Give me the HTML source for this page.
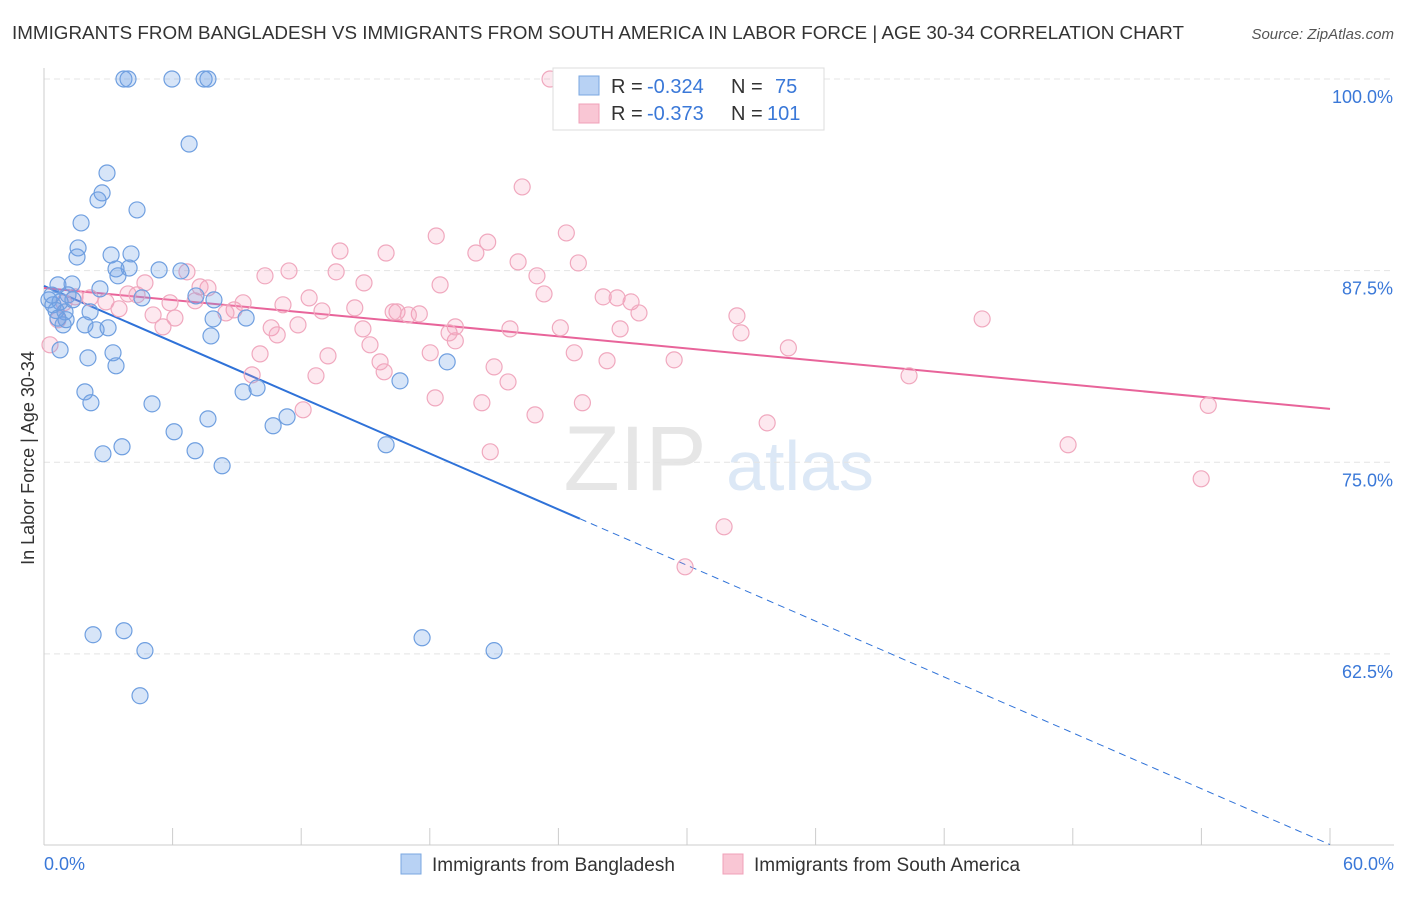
<!DOCTYPE html>
<html><head><meta charset="utf-8"><style>
body{margin:0;background:#fff;font-family:"Liberation Sans",sans-serif;}
svg text{font-family:"Liberation Sans",sans-serif;}
</style></head><body>
<svg id="chart" width="1406" height="892" xmlns="http://www.w3.org/2000/svg">
<text x="12" y="39" font-size="18.6" fill="#333" textLength="1172" lengthAdjust="spacingAndGlyphs">IMMIGRANTS FROM BANGLADESH VS IMMIGRANTS FROM SOUTH AMERICA IN LABOR FORCE | AGE 30-34 CORRELATION CHART</text>
<text x="1394" y="39" font-size="15" fill="#555" text-anchor="end" font-style="italic">Source: ZipAtlas.com</text>
<text x="34" y="458" font-size="18" fill="#333" text-anchor="middle" transform="rotate(-90 34 458)">In Labor Force | Age 30-34</text>
<g><text x="635" y="490" font-size="92" fill="#e6e6e6" font-family="Liberation Serif" text-anchor="middle">ZIP</text><text x="800" y="490" font-size="70" fill="#dce8f6" text-anchor="middle">atlas</text></g>
<g id="grid"></g><g id="axes"></g><g id="lines"></g><g id="points"></g>
<g>
<rect x="553" y="68" width="271" height="62" fill="#fff" stroke="#ddd"/>
<rect x="579" y="76" width="20" height="19" fill="#b8d2f4" stroke="#7aa7e0"/>
<rect x="579" y="104" width="20" height="19" fill="#f9c6d4" stroke="#f0a0b8"/>
<text x="611" y="93" font-size="20" fill="#333">R =</text><text x="647" y="93" font-size="20" fill="#3a78d8">-0.324</text>
<text x="731" y="93" font-size="20" fill="#333">N =</text><text x="775" y="93" font-size="20" fill="#3a78d8">75</text>
<text x="611" y="120" font-size="20" fill="#333">R =</text><text x="647" y="120" font-size="20" fill="#3a78d8">-0.373</text>
<text x="731" y="120" font-size="20" fill="#333">N =</text><text x="767" y="120" font-size="20" fill="#3a78d8">101</text>
</g>
<g>
<rect x="401" y="854" width="20" height="20" fill="#b8d2f4" stroke="#7aa7e0"/>
<text x="432" y="871" font-size="19" fill="#333">Immigrants from Bangladesh</text>
<rect x="723" y="854" width="20" height="20" fill="#f9c6d4" stroke="#f0a0b8"/>
<text x="754" y="871" font-size="19" fill="#333">Immigrants from South America</text>
</g>
</svg>
<script>
const yTicks=[100,87.5,75,62.5];
const yTickLabels=["100.0%","87.5%","75.0%","62.5%"];
const xTickLabels=["0.0%","60.0%"];
const blueX=[3.73,3.92,5.97,7.47,7.65,6.77,2.94,2.71,2.52,4.34,1.73,1.59,1.54,3.13,4.06,3.36,3.97,3.45,6.39,5.37,0.65,1.31,2.61,1.12,0.23,0.42,0.75,0.98,2.15,1.91,0.89,2.43,2.99,4.57,7.09,7.93,7.89,9.43,7.79,0.75,3.22,2.05,3.36,1.91,2.19,5.04,9.29,9.94,7.65,11.34,10.69,6.07,3.64,2.75,7.05,8.31,16.61,18.81,15.96,2.29,3.73,4.71,4.48,17.64,21.0,0.37,0.56,1.03,1.35,0.65];
const blueY=[100,100,100,100,100,95.76,93.87,92.57,92.11,91.46,90.61,88.98,88.39,88.52,88.59,87.61,87.67,87.16,87.48,87.55,86.57,86.63,86.31,85.92,85.59,85.27,85.46,84.81,84.81,83.96,83.96,83.64,83.77,85.72,85.85,85.59,84.35,84.41,83.24,82.33,82.14,81.81,81.29,79.59,78.88,78.81,79.59,79.85,77.83,77.96,77.38,76.99,76.01,75.55,75.75,74.77,80.31,81.55,76.14,63.75,64.01,62.71,59.77,63.55,62.71,85.9,84.9,84.3,85.6,84.4];
const pinkX=[23.61,22.31,24.37,18.3,20.7,13.81,15.96,20.15,22.12,24.93,11.43,10.31,13.63,14.93,23.0,18.48,23.33,26.09,26.74,27.39,27.76,26.88,32.52,32.33,34.73,29.4,26.27,24.74,24.09,21.74,21.0,21.65,20.43,18.25,25.12,22.91,20.82,18.02,19.19,18.9,19.19,15.87,15.68,15.21,14.88,16.47,16.29,17.51,17.0,14.5,12.97,12.37,11.15,11.85,10.6,10.88,10.08,9.71,12.69,13.25,12.09,9.29,8.87,8.49,7.65,7.28,6.67,4.71,3.92,4.34,5.09,5.55,6.11,5.88,7.05,3.5,2.89,2.15,1.45,0.93,0.65,0.28,31.73,29.91,33.74,40.36,47.78,53.99,54.32,43.77];
const pinkY=[100,92.96,89.96,89.76,89.36,88.78,88.65,88.65,88.07,88.0,87.48,87.16,87.42,86.7,87.16,86.57,85.98,85.79,85.72,85.46,84.74,83.7,83.44,84.55,82.46,81.68,81.62,82.14,83.77,83.7,81.22,80.24,78.88,79.2,78.88,78.09,75.68,82.14,82.92,83.44,83.83,80.9,81.55,82.66,83.7,84.81,84.81,84.68,84.61,85.07,84.87,85.72,85.27,83.96,83.77,83.31,82.07,80.7,80.64,81.94,78.42,85.4,84.94,84.74,86.37,86.44,87.42,86.7,85.98,85.92,84.61,83.83,84.41,85.4,85.53,85.01,85.46,85.72,85.79,85.4,84.29,82.66,70.79,68.18,77.57,80.64,76.14,73.92,78.71,84.35];
const blueFit=[86.5,50.06];
const pinkFit=[86.37,78.48];
const NS="http://www.w3.org/2000/svg";
const xs=v=>44+v/60*1286;
const ys=v=>79+(100-v)*15.33;
function mk(tag,at,parent){const e=document.createElementNS(NS,tag);for(const k in at)e.setAttribute(k,at[k]);document.getElementById(parent).appendChild(e);return e;}
yTicks.forEach((t,i)=>{
 const g=mk('line',{x1:44,x2:1394,y1:ys(t),y2:ys(t),stroke:'#e4e4e4','stroke-dasharray':'6,4'},'grid');
 
 
 const l=mk('text',{x:1393,y:ys(t)+24,'font-size':18,fill:'#3a78d8','text-anchor':'end'},'axes');
 l.textContent=yTickLabels[i];
 
 
});
const ax=mk('line',{x1:44,x2:44,y1:68,y2:845,stroke:'#ccc'},'axes');


const bx=mk('line',{x1:44,x2:1394,y1:845,y2:845,stroke:'#ccc'},'axes');


for(let i=0;i<=10;i++){const t=mk('line',{x1:xs(i*6),x2:xs(i*6),y1:828,y2:845,stroke:'#ccc'},'axes');
 
 }
[[0,'start',44],[60,'end',1394]].forEach((d,i)=>{const t=mk('text',{x:d[2],y:870,'font-size':18,fill:'#3a78d8','text-anchor':d[1]},'axes');t.textContent=xTickLabels[i];
 
 });
function pts(X,Y,fill,stroke,name){X.forEach((x,i)=>{const c=mk('circle',{cx:xs(x),cy:ys(Y[i]),r:8,fill:fill,stroke:stroke,'stroke-width':1.2},'points');
 
 });}
pts(pinkX,pinkY,'rgba(244,150,180,0.22)','#f0a8be','point-south-america');
pts(blueX,blueY,'rgba(110,160,230,0.28)','#6f9fe0','point-bangladesh');
const bEnd=25;const bYe=blueFit[0]+(blueFit[1]-blueFit[0])*bEnd/60;
const l1=mk('line',{x1:xs(0),y1:ys(blueFit[0]),x2:xs(bEnd),y2:ys(bYe),stroke:'#2f72d8','stroke-width':2},'lines');


const l2=mk('line',{x1:xs(bEnd),y1:ys(bYe),x2:xs(60),y2:ys(blueFit[1]),stroke:'#2f72d8','stroke-width':1,'stroke-dasharray':'7,5'},'lines');


const l3=mk('line',{x1:xs(0),y1:ys(pinkFit[0]),x2:xs(60),y2:ys(pinkFit[1]),stroke:'#e8649a','stroke-width':2},'lines');


</script>
</body></html>
